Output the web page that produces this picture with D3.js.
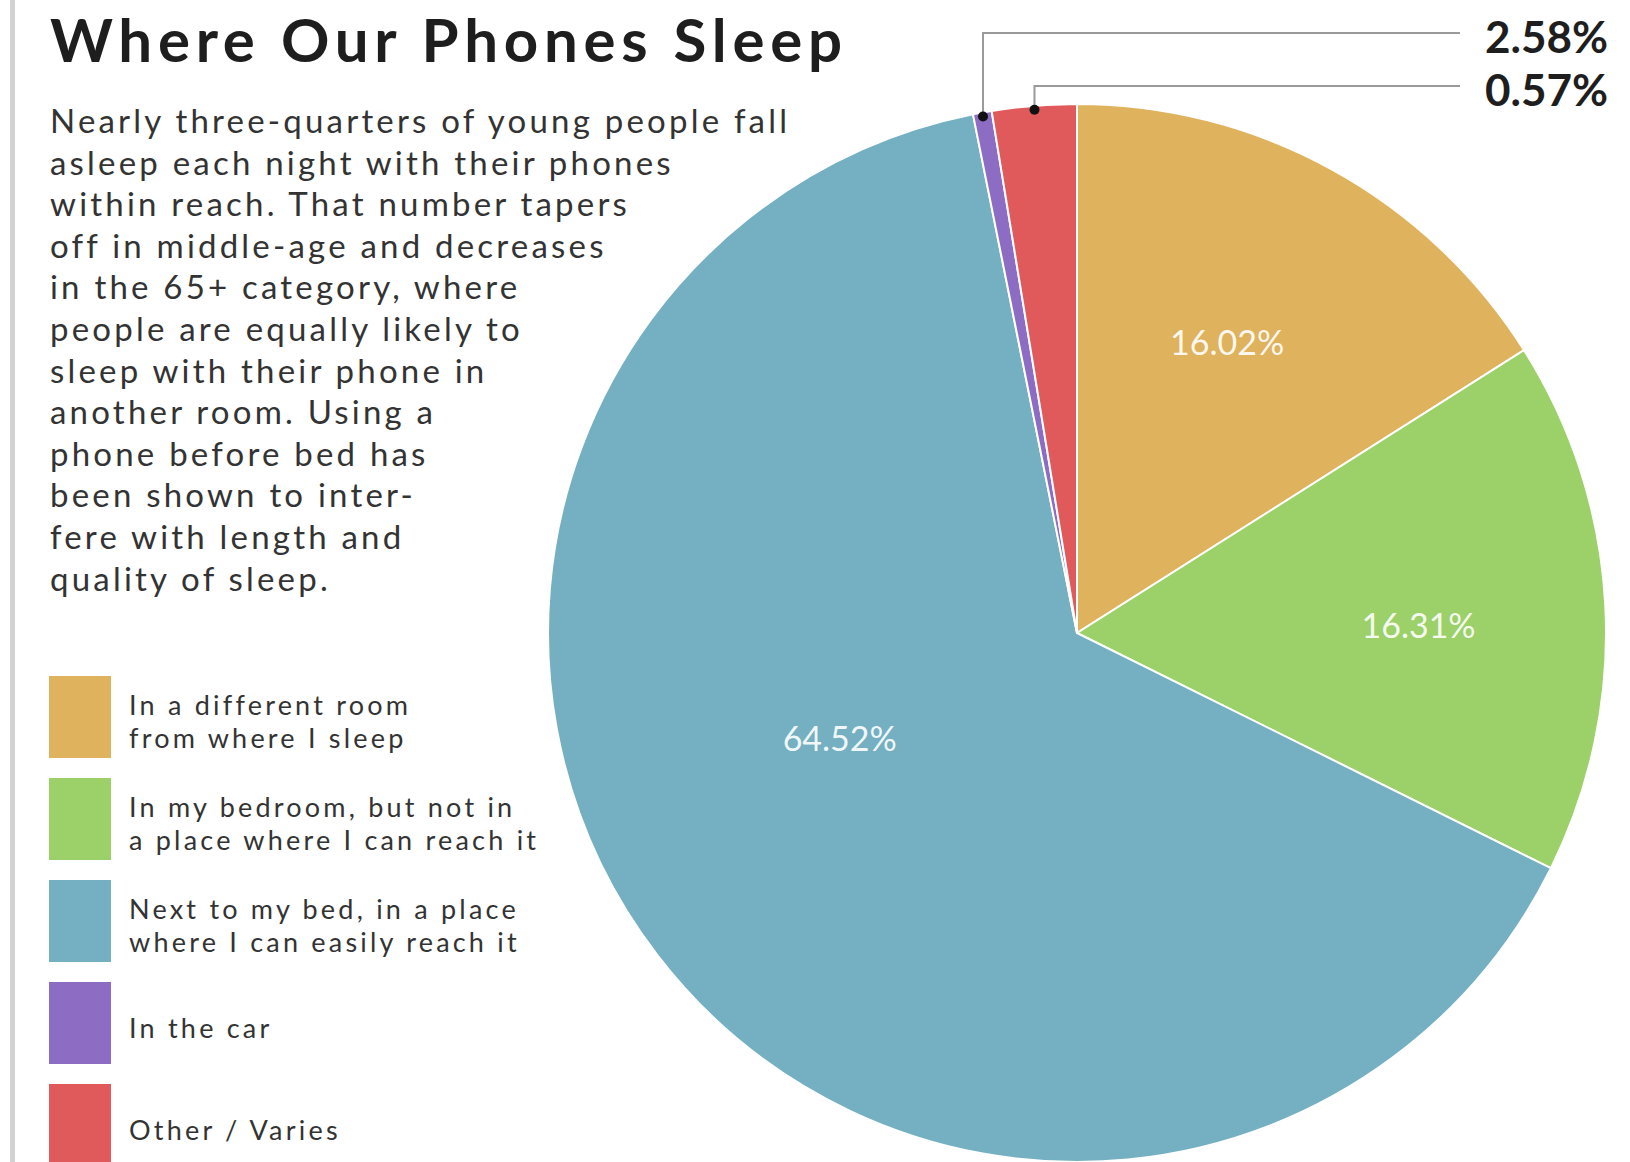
<!DOCTYPE html>
<html>
<head>
<meta charset="utf-8">
<script src="https://cdn.jsdelivr.net/npm/d3@7"></script>
<style>
  html, body { margin: 0; padding: 0; background: #fff; }
  svg { display: block; }
  text { font-family: Lato, "Open Sans", sans-serif; }
</style>
</head>
<body>
<svg id="chart" width="1630" height="1162"></svg>
<script>
// data
const categories = [
  "In a different room from where I sleep",
  "In my bedroom, but not in a place where I can reach it",
  "Next to my bed, in a place where I can easily reach it",
  "In the car",
  "Other / Varies"
];
const shares = [16.02, 16.31, 64.52, 0.57, 2.58];
const legendLines = [
  ["In a different room", "from where I sleep"],
  ["In my bedroom, but not in", "a place where I can reach it"],
  ["Next to my bed, in a place", "where I can easily reach it"],
  ["In the car"],
  ["Other / Varies"]
];
const colors = ["#dfb25d", "#9cd068", "#74b0c1", "#8d6cc3", "#e05a5c"];
const title = "Where Our Phones Sleep";
const introLines = [
  "Nearly three-quarters of young people fall",
  "asleep each night with their phones",
  "within reach. That number tapers",
  "off in middle-age and decreases",
  "in the 65+ category, where",
  "people are equally likely to",
  "sleep with their phone in",
  "another room. Using a",
  "phone before bed has",
  "been shown to inter-",
  "fere with length and",
  "quality of sleep."
];

const svg = d3.select("#chart");
const fmt = d => d.toFixed(2) + "%";

// keep the font size, spread letters so the text reaches a target width
function spreadTo(sel, target) {
  const node = sel.node();
  const w = node.getComputedTextLength();
  const n = node.textContent.length;
  return (target - w) / Math.max(1, n - 1);
}

// left page edge
svg.append("rect").attr("x", 10).attr("y", 0).attr("width", 5).attr("height", 1162).attr("fill", "#d2d2d2");

// title
const t = svg.append("text")
    .attr("x", 50).attr("y", 62)
    .attr("font-size", 60)
    .attr("font-weight", 700)
    .attr("fill", "#1e1e1e")
    .text(title);
t.attr("letter-spacing", spreadTo(t, 792));

// intro paragraph
const intro = svg.append("g").attr("fill", "#333").attr("font-size", 33);
const introText = intro.selectAll("text")
  .data(introLines)
  .join("text")
    .attr("x", 50)
    .attr("y", (d, i) => 133 + i * 41.6)
    .text(d => d);
introText.attr("letter-spacing", spreadTo(d3.select(introText.nodes()[0]), 737));

// pie
const cx = 1077, cy = 633, R = 529;
const pie = d3.pie().sort(null).value(d => d);
const arcs = pie(shares);
const arc = d3.arc().innerRadius(0).outerRadius(R);
const labelArc = d3.arc().innerRadius(R * 0.62).outerRadius(R * 0.62);
const edgeArc = d3.arc().innerRadius(R - 4).outerRadius(R - 4);

const g = svg.append("g").attr("transform", `translate(${cx},${cy})`);
g.selectAll("path")
  .data(arcs)
  .join("path")
    .attr("d", arc)
    .attr("fill", (d, i) => colors[i])
    .attr("stroke", "#fff")
    .attr("stroke-width", 2);

// labels inside the big slices
const labelNudge = [[-8, -3], [14, 10], [23, -93]];
g.selectAll("text.inner")
  .data(arcs.filter(d => d.value > 5))
  .join("text")
    .attr("class", "inner")
    .attr("transform", d => {
      const c = labelArc.centroid(d), n = labelNudge[d.index];
      return `translate(${c[0] + n[0]},${c[1] + n[1]})`;
    })
    .attr("text-anchor", "middle")
    .attr("dy", "0.35em")
    .attr("font-size", 34)
    .attr("fill", "#fff")
    .attr("fill-opacity", 0.92)
    .text(d => fmt(d.value));

// callouts for the thin slices (lines as in the original, outermost to leftmost)
const small = arcs.filter(d => d.value < 5).sort((a, b) => a.startAngle - b.startAngle);
const smallText = small.map(d => d.value).sort((a, b) => b - a);
const rowY = [33, 86];
const lineEnd = 1460;
small.forEach((d, i) => {
  const p = edgeArc.centroid(d);
  const px = cx + p[0], py = cy + p[1];
  svg.append("path")
    .attr("d", `M${lineEnd},${rowY[i]}H${px}V${py}`)
    .attr("fill", "none")
    .attr("stroke", "#9a9a9a")
    .attr("stroke-width", 2);
  svg.append("circle").attr("cx", px).attr("cy", py).attr("r", 5).attr("fill", "#111");
  svg.append("text")
    .attr("x", 1608).attr("y", rowY[i] + 20)
    .attr("text-anchor", "end")
    .attr("font-size", 44)
    .attr("font-weight", 700)
    .attr("fill", "#1e1e1e")
    .text(fmt(smallText[i]));
});

// legend
const legend = svg.append("g");
const item = legend.selectAll("g")
  .data(categories)
  .join("g")
    .attr("transform", (d, i) => `translate(49,${676 + i * 102})`);
item.append("rect")
    .attr("width", 62).attr("height", 82)
    .attr("fill", (d, i) => colors[i]);
const legText = item.append("text")
    .attr("fill", "#333")
    .attr("font-size", 27);
legText.selectAll("tspan")
  .data((d, i) => legendLines[i].map((s, j, a) => ({ s, j, n: a.length })))
  .join("tspan")
    .attr("x", 80)
    .attr("y", d => 45 + (d.j - (d.n - 1) / 2) * 33)
    .attr("dominant-baseline", "central")
    .text(d => d.s);
// spacing taken from the widest line
const probe = svg.append("text").attr("font-size", 27).text(legendLines[1][1]);
const legSpread = spreadTo(probe, 407);
probe.remove();
legText.attr("letter-spacing", legSpread);
</script>
</body>
</html>
